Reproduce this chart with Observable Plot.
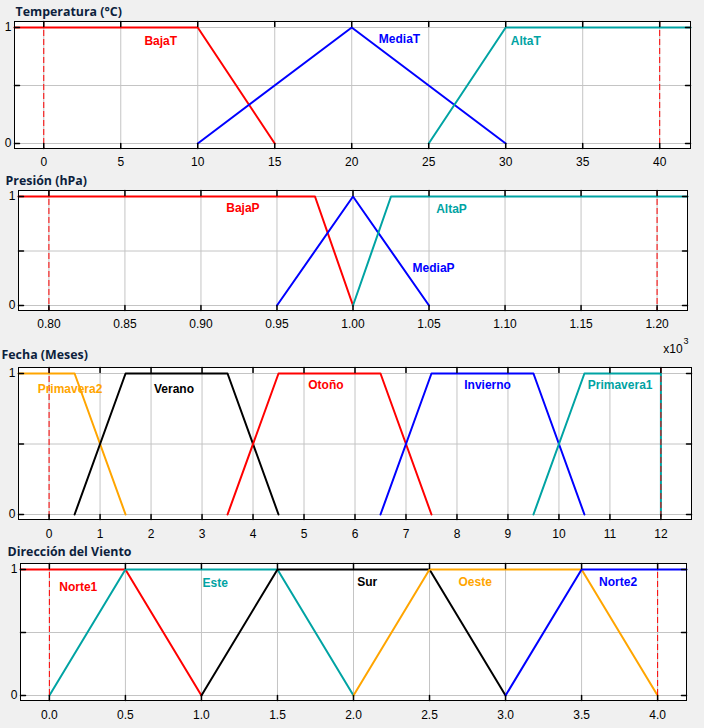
<!DOCTYPE html>
<html><head><meta charset="utf-8">
<script src="https://cdn.jsdelivr.net/npm/d3@7"></script>
<script src="https://cdn.jsdelivr.net/npm/@observablehq/plot@0.6"></script>
<style>
html,body{margin:0;padding:0;background:#f0f0f0;}
#root{position:relative;width:704px;height:728px;overflow:hidden;}
#root svg{position:absolute;left:0;}
</style></head><body><div id="root"></div>
<script>
// ---- Temperatura ----
const tempTitle = "Temperatura (°C)";
const tempNames = ["BajaT", "MediaT", "AltaT"];
const tempColors = ["#ff0000", "#0000ff", "#00a3a3"];
const tempX = [[-1.9, 10, 15], [10, 20, 30], [25, 30, 42]];
const tempY = [[1, 1, 0], [0, 1, 0], [0, 1, 1]];
const tempLabelX = [7.6, 23.1, 31.3];
const tempLabelY = [0.88, 0.9, 0.88];
const tempTicks = [0, 5, 10, 15, 20, 25, 30, 35, 40];
const tempBounds = [0, 40];
const tempDomain = [-1.9, 42];

// ---- Presión ----
const presTitle = "Presión (hPa)";
const presNames = ["BajaP", "MediaP", "AltaP"];
const presColors = ["#ff0000", "#0000ff", "#00a3a3"];
const presX = [[0.78, 0.975, 1.0], [0.95, 1.0, 1.05], [1.0, 1.025, 1.22]];
const presY = [[1, 1, 0], [0, 1, 0], [0, 1, 1]];
const presLabelX = [0.9276, 1.053, 1.0648];
const presLabelY = [0.89, 0.344, 0.88];
const presTicks = [0.80, 0.85, 0.90, 0.95, 1.00, 1.05, 1.10, 1.15, 1.20];
const presBounds = [0.80, 1.20];
const presDomain = [0.78, 1.22];

// ---- Fecha ----
const fechaTitle = "Fecha (Meses)";
const fechaNames = ["Primavera2", "Verano", "Otoño", "Invierno", "Primavera1"];
const fechaColors = ["#ffa500", "#000000", "#ff0000", "#0000ff", "#00a3a3"];
const fechaX = [[-0.6, 0.5, 1.5], [0.5, 1.5, 3.5, 4.5], [3.5, 4.5, 6.5, 7.5], [6.5, 7.5, 9.5, 10.5], [9.5, 10.5, 12, 12]];
const fechaY = [[1, 1, 0], [0, 1, 1, 0], [0, 1, 1, 0], [0, 1, 1, 0], [0, 1, 1, 0]];
const fechaLabelX = [0.41, 2.45, 5.43, 8.6, 11.2];
const fechaLabelY = [0.887, 0.89, 0.915, 0.915, 0.915];
const fechaTicks = [0, 1, 2, 3, 4, 5, 6, 7, 8, 9, 10, 11, 12];
const fechaBounds = [0, 12];
const fechaDomain = [-0.6, 12.6];
const fechaExponent = ["x10", "3"];

// ---- Dirección del Viento ----
const vientoTitle = "Dirección del Viento";
const vientoNames = ["Norte1", "Este", "Sur", "Oeste", "Norte2"];
const vientoColors = ["#ff0000", "#00a3a3", "#000000", "#ffa500", "#0000ff"];
const vientoX = [[-0.19, 0.5, 1.0], [0, 0.5, 1.5, 2.0], [1.0, 1.5, 2.5, 3.0], [2.0, 2.5, 3.5, 4.0], [3.0, 3.5, 4.19]];
const vientoY = [[1, 1, 0], [0, 1, 1, 0], [0, 1, 1, 0], [0, 1, 1, 0], [0, 1, 1]];
const vientoLabelX = [0.19, 1.09, 2.09, 2.8, 3.74];
const vientoLabelY = [0.856, 0.888, 0.896, 0.896, 0.896];
const vientoTicks = [0, 0.5, 1.0, 1.5, 2.0, 2.5, 3.0, 3.5, 4.0];
const vientoBounds = [0, 4];
const vientoDomain = [-0.19, 4.19];

const yGrid = [0, 0.5, 1];
const yLabels = [0, 1];

const FONT = "Liberation Sans, Arial, sans-serif";
const TITLE_FONT = "Open Sans, Noto Sans, sans-serif";

function panel(d, L) {
  const series = d.names.map((n, i) => d.xs[i].map((x, j) => ({name: n, x, y: d.ys[i][j]})));
  const labels = d.names.map((n, i) => ({name: n, x: d.lx[i], y: d.ly[i], color: d.colors[i]}));
  const marks = [
    Plot.frame({fill: "white", stroke: null}),
    Plot.ruleX(d.ticks, {x: v => v, stroke: "#c4c4c4"}),
    Plot.ruleY(yGrid, {y: v => v, stroke: "#c4c4c4"}),
    ...series.map((s, i) => Plot.line(s, {x: "x", y: "y", stroke: d.colors[i], strokeWidth: 2})),
    Plot.ruleX(d.bounds, {x: v => v, stroke: "#ff0000", strokeDasharray: "6,3"}),
    Plot.frame({stroke: "black"}),
    Plot.vector(d.ticks, {x: v => v, frameAnchor: "bottom", length: 5, rotate: 0, anchor: "start", r: 0, stroke: "black"}),
    Plot.vector(d.ticks, {x: v => v, frameAnchor: "top", length: 5, rotate: 180, anchor: "start", r: 0, stroke: "black"}),
    Plot.vector(yGrid, {y: v => v, frameAnchor: "left", length: 5, rotate: 90, anchor: "start", r: 0, stroke: "black"}),
    Plot.vector(yGrid, {y: v => v, frameAnchor: "right", length: 5, rotate: -90, anchor: "start", r: 0, stroke: "black"}),
    Plot.axisX(d.ticks, {tickSize: 0, tickPadding: L.xPad, tickFormat: d.fmt, fontSize: 12, fontFamily: FONT, fill: "#000", label: null}),
    Plot.axisY(yLabels, {tickSize: 0, tickPadding: 3, tickFormat: d3.format("d"), fontSize: 12, fontFamily: FONT, fill: "#000", label: null}),
    Plot.text(labels, {x: "x", y: "y", text: "name", fill: "color", fontWeight: "bold", fontSize: 12, fontFamily: FONT, lineAnchor: "middle"}),
    Plot.text([d.title], {text: v => v, frameAnchor: "top-left", dx: L.tdx, dy: L.tdy, textAnchor: "start", lineAnchor: "middle",
      fontWeight: "bold", fontSize: 12.4, fontFamily: TITLE_FONT, fill: "#0d1f3d"})
  ];
  if (d.exponent) {
    marks.push(Plot.text([d.exponent[0]], {text: v => v, frameAnchor: "top-right", dx: -18.5, dy: -18.5, textAnchor: "middle", lineAnchor: "middle", fontSize: 12, fontFamily: FONT, fill: "#000"}));
    marks.push(Plot.text([d.exponent[1]], {text: v => v, frameAnchor: "top-right", dx: -5.5, dy: -26, textAnchor: "middle", lineAnchor: "middle", fontSize: 9, fontFamily: FONT, fill: "#000"}));
  }
  const svg = Plot.plot({
    width: 704,
    height: L.height,
    marginTop: L.mt, marginBottom: L.mb, marginLeft: L.ml, marginRight: L.mr,
    x: {domain: d.domain, label: null},
    y: {domain: [0, 1], insetTop: 6, insetBottom: 5, label: null},
    color: {type: "identity"},
    style: {fontFamily: FONT, fontSize: "12px", background: "transparent", overflow: "visible"},
    marks
  });
  svg.style.top = L.top + "px";
  return svg;
}

const root = document.getElementById("root");
root.append(panel({title: tempTitle, names: tempNames, colors: tempColors, xs: tempX, ys: tempY, lx: tempLabelX, ly: tempLabelY,
  ticks: tempTicks, bounds: tempBounds, domain: tempDomain, fmt: d3.format("d")},
  {top: 0, height: 170, mt: 21, mb: 22, ml: 14, mr: 14, tdx: 1, tdy: -9, xPad: 9}));
root.append(panel({title: presTitle, names: presNames, colors: presColors, xs: presX, ys: presY, lx: presLabelX, ly: presLabelY,
  ticks: presTicks, bounds: presBounds, domain: presDomain, fmt: d3.format(".2f")},
  {top: 170, height: 170, mt: 20, mb: 30, ml: 18, mr: 17, tdx: -13, tdy: -9, xPad: 9}));
root.append(panel({title: fechaTitle, names: fechaNames, colors: fechaColors, xs: fechaX, ys: fechaY, lx: fechaLabelX, ly: fechaLabelY,
  ticks: fechaTicks, bounds: fechaBounds, domain: fechaDomain, fmt: d3.format("d"), exponent: fechaExponent},
  {top: 340, height: 200, mt: 27, mb: 21, ml: 18, mr: 13, tdx: -17, tdy: -12, xPad: 10}));
root.append(panel({title: vientoTitle, names: vientoNames, colors: vientoColors, xs: vientoX, ys: vientoY, lx: vientoLabelX, ly: vientoLabelY,
  ticks: vientoTicks, bounds: vientoBounds, domain: vientoDomain, fmt: d3.format(".1f")},
  {top: 540, height: 188, mt: 23, mb: 28, ml: 20, mr: 18, tdx: -13, tdy: -11, xPad: 10}));
</script></body></html>
